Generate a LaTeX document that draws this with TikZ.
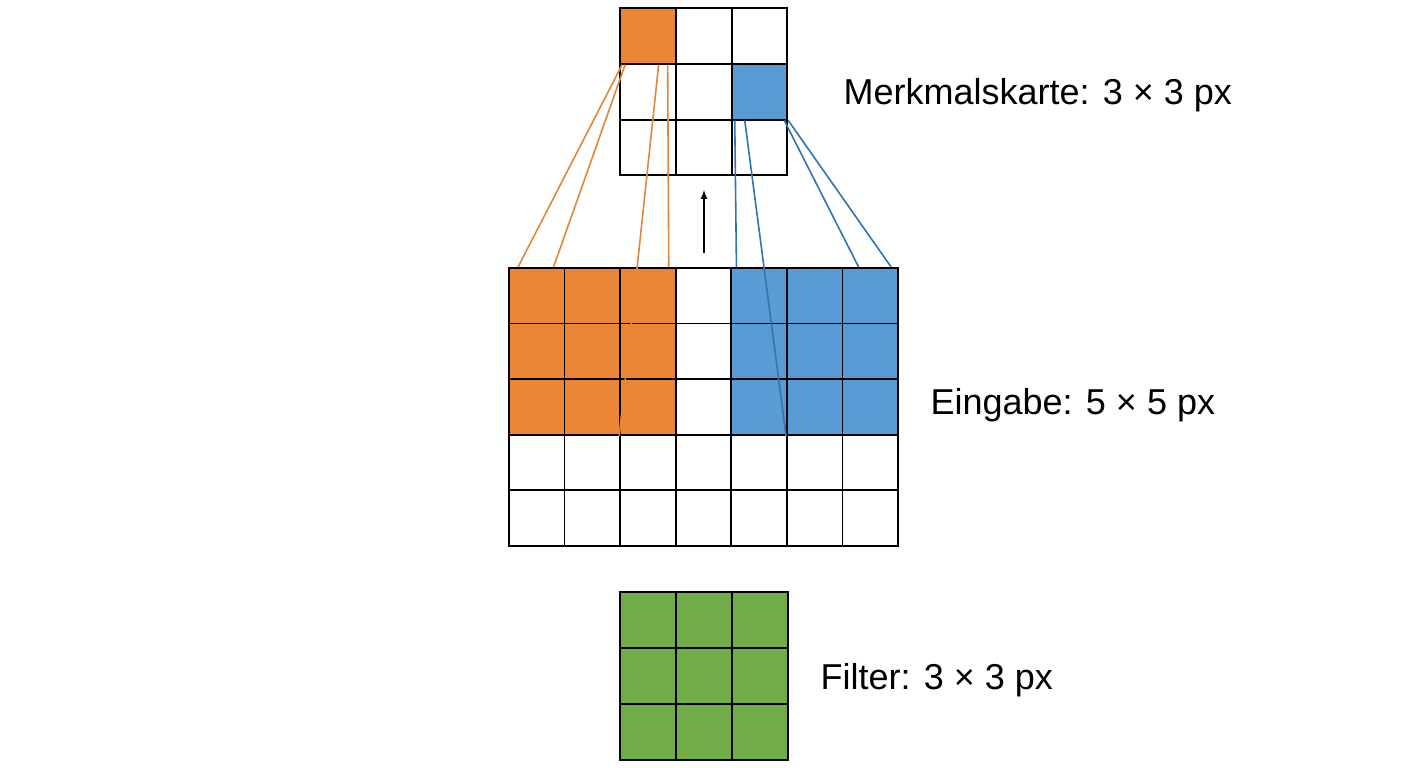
\documentclass[tikz,border=0pt]{standalone}
\usepackage{fontspec}
\setmainfont{Liberation Sans}
\definecolor{cellorange}{HTML}{ED8537}
\definecolor{cellblue}{HTML}{5B9BD5}
\definecolor{cellgreen}{HTML}{70AD47}
\definecolor{lineorange}{HTML}{E0873A}
\definecolor{lineblue}{HTML}{2E75B6}
\tikzset{
  cell/.style={draw, line width=1.8pt, minimum size=55.7pt, inner sep=0pt, fill=white},
  label/.style={anchor=west, font=\fontsize{36}{40}\selectfont},
  olink/.style={lineorange, line width=1.6pt},
  blink/.style={lineblue, line width=1.6pt}
}
\begin{document}
\begin{tikzpicture}[x=1pt,y=-1pt]
      \useasboundingbox (0,0) rectangle (1408,768);

      % feature map
      \foreach \r in {1,2,3}
        \foreach \c in {1,2,3}
          \node (m\r\c) [cell] at (620+55.8*\c-27.9, 8+55.8*\r-27.9) {};
      \node [cell, fill=cellorange] at (m11) {};
      \node [cell, fill=cellblue] at (m23) {};

      % input
      \foreach \r in {1,...,5}
        \foreach \c in {1,...,7}
          \node (i\r\c) [cell] at (509+55.6*\c-27.8, 268+55.6*\r-27.8) {};
      \foreach \r in {1,2,3}
        \foreach \c in {1,2,3} {
          \node [cell, fill=cellorange] at (i\r\c) {};
          \node [cell, fill=cellblue] at (i\r\the\numexpr\c+4\relax) {};
        }

      % filter
      \foreach \r in {1,2,3}
        \foreach \c in {1,2,3}
          \node (f\r\c) [cell, fill=cellgreen, minimum size=56pt] at (620+56*\c-28, 592+56*\r-28) {};

      % receptive fields
      \draw [olink] ([xshift=3pt]m11.south west) -- ([xshift=10pt]i11.north west);
      \draw [olink] ([xshift=6pt]m11.south west) -- ([xshift=-12pt]i11.north east);
      \draw [olink] ([xshift=-18pt]m11.south east) -- (i33.south west);
      \draw [olink] ([xshift=-9pt]m11.south east) -- ([xshift=-8pt]i13.north east);

      \draw [blink] ([xshift=4pt]m23.south west) -- ([xshift=6pt]i15.north west);
      \draw [blink] ([xshift=14pt]m23.south west) -- (i36.south west);
      \draw [blink] ([xshift=-4pt]m23.south east) -- ([xshift=17pt]i17.north west);
      \draw [blink] (m23.south east) -- ([xshift=-8pt]i17.north east);

      \coordinate (A) at (704,253);
      \draw [-latex, line width=2pt] (A) -- ++(0,-63);

      % labels
      \node (LM) [label] at (840,95) {Merkmalskarte: 3 × 3 px};
      \node (LE) [label] at (927,405) {Eingabe: 5 × 5 px};
      \node (LF) [label] at (817,680) {Filter: 3 × 3 px};
\end{tikzpicture}
\end{document}
